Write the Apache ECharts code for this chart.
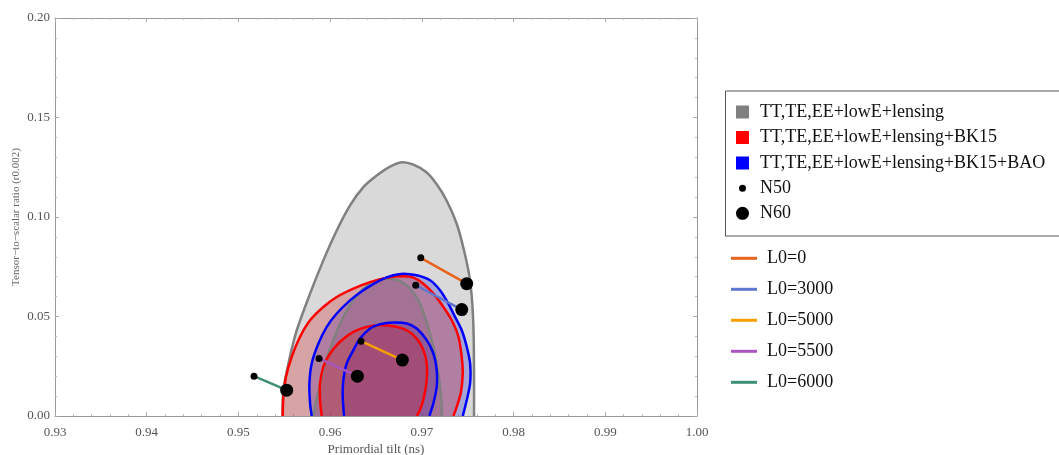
<!DOCTYPE html>
<html>
<head>
<meta charset="utf-8">
<script src="https://cdn.jsdelivr.net/npm/echarts@6/dist/echarts.min.js"></script>
<style>html,body{margin:0;padding:0;background:#fff}#c{width:1059px;height:455px}</style>
</head>
<body>
<div id="c"></div>
<script>
// ---- data ----
const datasetNames = ['TT,TE,EE+lowE+lensing', 'TT,TE,EE+lowE+lensing+BK15', 'TT,TE,EE+lowE+lensing+BK15+BAO'];
const grayOuter = [[0.95479,0],[0.95490,0.0130],[0.95545,0.0264],[0.95636,0.0431],[0.95781,0.0615],[0.95926,0.0782],[0.96072,0.0932],[0.96217,0.1058],[0.96362,0.1150],[0.96508,0.1208],[0.96653,0.1253],[0.96781,0.1275],[0.96908,0.1263],[0.97050,0.1225],[0.97160,0.1166],[0.97270,0.1083],[0.97380,0.0966],[0.97460,0.0832],[0.97520,0.0698],[0.97550,0.0565],[0.97565,0.0398],[0.97569,0.0197],[0.97569,0]];
const grayInner = [[0.95817,0],[0.95835,0.0047],[0.95883,0.0147],[0.95944,0.0264],[0.96035,0.0381],[0.96144,0.0498],[0.96253,0.0581],[0.96362,0.0640],[0.96471,0.0673],[0.96617,0.0690],[0.96762,0.0678],[0.96871,0.0640],[0.96962,0.0581],[0.97035,0.0498],[0.97108,0.0381],[0.97162,0.0264],[0.97198,0.0147],[0.97217,0.0047],[0.97217,0]];
const redOuter = [[0.95483,0],[0.95490,0.0097],[0.95519,0.0197],[0.95581,0.0297],[0.95672,0.0398],[0.95781,0.0481],[0.95926,0.0548],[0.96072,0.0598],[0.96253,0.0640],[0.96435,0.0673],[0.96617,0.0695],[0.96798,0.0702],[0.96908,0.0695],[0.97017,0.0665],[0.97126,0.0615],[0.97235,0.0548],[0.97326,0.0481],[0.97399,0.0398],[0.97435,0.0297],[0.97446,0.0214],[0.97424,0.0114],[0.97381,0.0047],[0.97344,0]];
const redInner = [[0.95908,0],[0.95890,0.0080],[0.95890,0.0164],[0.95926,0.0247],[0.95999,0.0314],[0.96108,0.0373],[0.96253,0.0423],[0.96399,0.0448],[0.96544,0.0456],[0.96690,0.0451],[0.96835,0.0431],[0.96944,0.0389],[0.97017,0.0331],[0.97053,0.0264],[0.97053,0.0180],[0.97024,0.0097],[0.96980,0.0030],[0.96944,0]];
const blueOuter = [[0.95799,0],[0.95781,0.0064],[0.95774,0.0164],[0.95799,0.0264],[0.95872,0.0364],[0.95963,0.0448],[0.96072,0.0515],[0.96217,0.0581],[0.96362,0.0632],[0.96544,0.0682],[0.96690,0.0707],[0.96799,0.0715],[0.96944,0.0707],[0.97089,0.0682],[0.97198,0.0632],[0.97289,0.0565],[0.97362,0.0498],[0.97435,0.0431],[0.97490,0.0347],[0.97526,0.0264],[0.97526,0.0164],[0.97490,0.0080],[0.97446,0]];
const blueInner = [[0.96152,0],[0.96137,0.0097],[0.96144,0.0180],[0.96181,0.0264],[0.96253,0.0331],[0.96326,0.0389],[0.96435,0.0440],[0.96544,0.0461],[0.96690,0.0470],[0.96835,0.0465],[0.96944,0.0440],[0.97053,0.0381],[0.97126,0.0314],[0.97162,0.0231],[0.97162,0.0147],[0.97126,0.0064],[0.97082,0]];

const l0Names = ['L0=0', 'L0=3000', 'L0=5000', 'L0=5500', 'L0=6000'];
const n50 = [[0.96988,0.0795],[0.96933,0.0657],[0.96337,0.0376],[0.95879,0.0289],[0.95170,0.0200]];
const n60 = [[0.97489,0.0665],[0.97435,0.0535],[0.96787,0.0281],[0.96297,0.0200],[0.95526,0.0130]];

// ---- styling ----
const FONT = 'Liberation Serif';
const l0Colors = ['#e8641c', '#5f75cf', '#f5a000', '#a855c0', '#3f8f73'];
const setColors = {
  gray: { fill: 'rgba(128,128,128,0.3)', stroke: '#808080', swatch: '#808080' },
  red:  { fill: 'rgba(210,44,44,0.3)',   stroke: '#ff0000', swatch: '#ff0000' },
  blue: { fill: 'rgba(44,44,210,0.3)',   stroke: '#0000ff', swatch: '#0000ff' }
};

function contour(name, pts, col, fillOrder, lineOrder) {
  return {
    type: 'custom', name: name, coordinateSystem: 'cartesian2d', clip: true, silent: true, z: 2,
    itemStyle: { color: col.swatch },
    data: [pts[0]],
    renderItem: function (params, api) {
      const c = pts.map(p => api.coord(p));
      const first = pts[0], last = pts[pts.length - 1];
      const closed = c.concat([api.coord([last[0], -0.004]), api.coord([first[0], -0.004])]);
      return {
        type: 'group',
        children: [
          { type: 'polygon', z2: fillOrder, shape: { points: closed, smooth: 0.25 }, style: { fill: col.fill, stroke: null } },
          { type: 'polyline', z2: 100 + lineOrder, shape: { points: c, smooth: 0.25 }, style: { stroke: col.stroke, lineWidth: 2.5, fill: null } }
        ]
      };
    }
  };
}

const series = [
  contour(datasetNames[0], grayOuter, setColors.gray, 1, 1),
  contour(datasetNames[0], grayInner, setColors.gray, 2, 2),
  contour(datasetNames[2], blueOuter, setColors.blue, 3, 5),
  contour(datasetNames[2], blueInner, setColors.blue, 4, 6),
  contour(datasetNames[1], redOuter, setColors.red, 5, 3),
  contour(datasetNames[1], redInner, setColors.red, 6, 4)
];
l0Names.forEach((nm, i) => {
  series.push({
    type: 'line', name: nm, data: [n50[i], n60[i]], symbol: 'none', z: 5,
    lineStyle: { color: l0Colors[i], width: 2.5 }, itemStyle: { color: l0Colors[i] }, silent: true
  });
});
series.push({ type: 'scatter', name: 'N50', data: n50, symbolSize: 7, itemStyle: { color: '#000', opacity: 1 }, z: 6, silent: true });
series.push({ type: 'scatter', name: 'N60', data: n60, symbolSize: 13, itemStyle: { color: '#000', opacity: 1 }, z: 6, silent: true });

const axisCommon = {
  type: 'value',
  axisLine: { show: true, onZero: false, lineStyle: { color: '#999', width: 1 } },
  axisTick: { show: true, inside: true, length: 4, lineStyle: { color: '#aaa' } },
  minorTick: { show: true, splitNumber: 5, length: 2, lineStyle: { color: '#bbb' } },
  splitLine: { show: false }
};

const option = {
  animation: false,
  backgroundColor: '#fff',
  textStyle: { fontFamily: FONT },
  grid: { left: 55, right: 362, top: 18, bottom: 39, outerBoundsMode: 'none', containLabel: false },
  xAxis: [
    Object.assign({}, axisCommon, {
      min: 0.93, max: 1.0, interval: 0.01, position: 'bottom',
      axisLabel: { formatter: v => v.toFixed(2), color: '#555', fontFamily: FONT, fontSize: 13, margin: 10 },
      name: 'Primordial tilt (ns)', nameLocation: 'middle', nameGap: 27, nameMoveOverlap: false,
      nameTextStyle: { color: '#555', fontFamily: FONT, fontSize: 13 }
    }),
    Object.assign({}, axisCommon, {
      min: 0.93, max: 1.0, interval: 0.01, position: 'top', axisLabel: { show: false }
    })
  ],
  yAxis: [
    Object.assign({}, axisCommon, {
      min: 0, max: 0.2, interval: 0.05, position: 'left',
      axisLabel: { formatter: v => v.toFixed(2), color: '#555', fontFamily: FONT, fontSize: 13, margin: 5 },
      name: 'Tensor\u2212to\u2212scalar ratio (r0.002)', nameLocation: 'middle', nameGap: 33, nameMoveOverlap: false,
      nameTextStyle: { color: '#666', fontFamily: FONT, fontSize: 11 }
    }),
    Object.assign({}, axisCommon, {
      min: 0, max: 0.2, interval: 0.05, position: 'right', axisLabel: { show: false }
    })
  ],
  legend: [
    {
      orient: 'vertical', left: 736, top: 103, padding: 0, itemGap: 7.5,
      itemWidth: 13, itemHeight: 13, icon: 'rect', selectedMode: false,
      textStyle: { fontFamily: FONT, fontSize: 18, color: '#111', padding: [0, 0, 0, 6] },
      data: [
        { name: datasetNames[0], itemStyle: { color: setColors.gray.swatch } },
        { name: datasetNames[1], itemStyle: { color: setColors.red.swatch } },
        { name: datasetNames[2], itemStyle: { color: setColors.blue.swatch } }
      ]
    },
    {
      orient: 'vertical', left: 739, top: 179.3, padding: 0,
      itemWidth: 7, itemHeight: 7, icon: 'circle', selectedMode: false,
      textStyle: { fontFamily: FONT, fontSize: 18, color: '#111', padding: [0, 0, 0, 9] },
      data: [{ name: 'N50', itemStyle: { color: '#000' } }]
    },
    {
      orient: 'vertical', left: 736, top: 204.3, padding: 0,
      itemWidth: 13, itemHeight: 13, icon: 'circle', selectedMode: false,
      textStyle: { fontFamily: FONT, fontSize: 18, color: '#111', padding: [0, 0, 0, 6] },
      data: [{ name: 'N60', itemStyle: { color: '#000' } }]
    },
    {
      orient: 'vertical', left: 731, top: 249.3, padding: 0, itemGap: 13,
      itemWidth: 26, itemHeight: 3, icon: 'rect', selectedMode: false,
      textStyle: { fontFamily: FONT, fontSize: 18, color: '#111', padding: [0, 0, 0, 5] },
      data: l0Names.map((nm, i) => ({ name: nm, itemStyle: { color: l0Colors[i] } }))
    }
  ],
  graphic: [
    {
      type: 'rect', left: 723, top: 88.5, z: 0, silent: true,
      shape: { width: 334, height: 145 },
      style: { fill: 'none', stroke: '#555', lineWidth: 1 }
    }
  ],
  series: series
};

const chart = echarts.init(document.getElementById('c'), null, { renderer: 'canvas' });
chart.setOption(option);
</script>
</body>
</html>
